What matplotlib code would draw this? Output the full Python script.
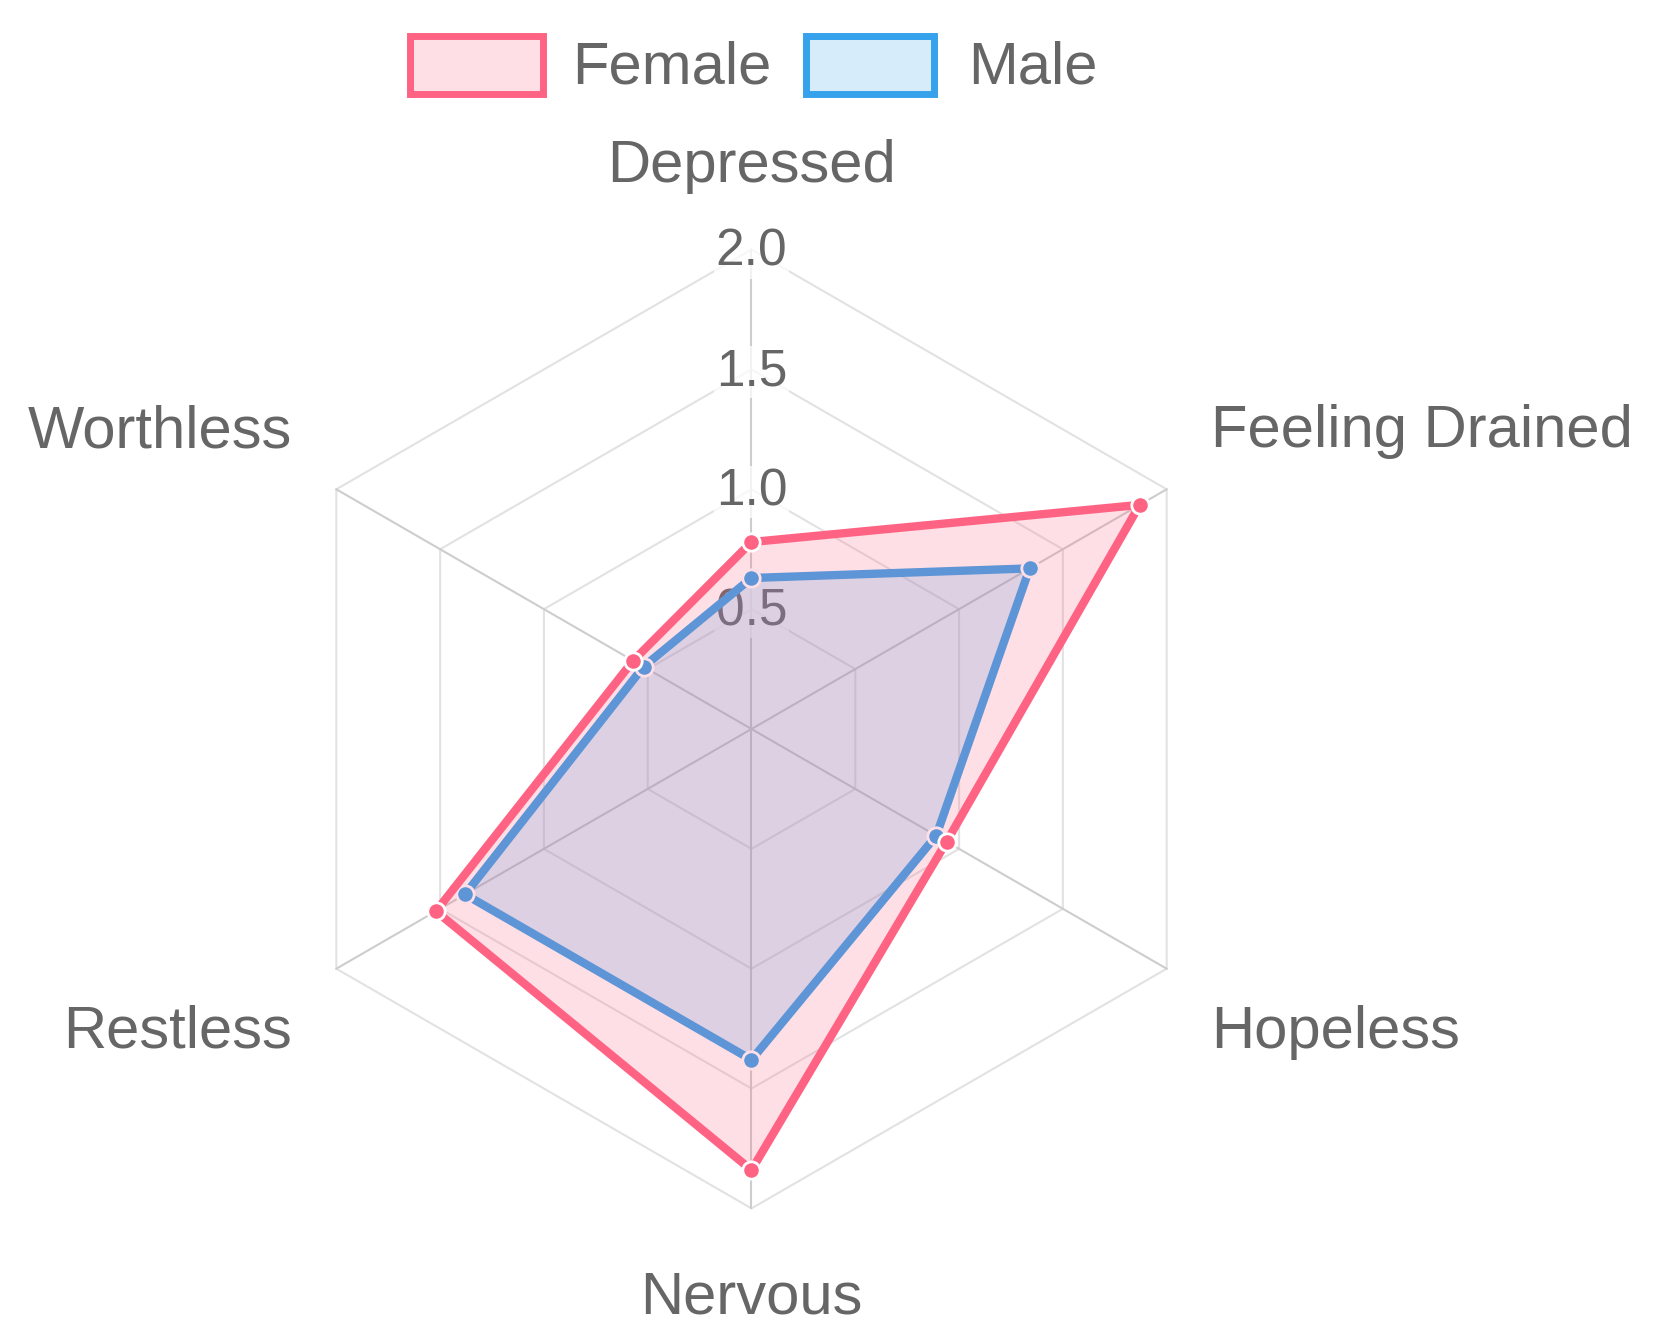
import numpy as np
import matplotlib.pyplot as plt
from matplotlib.patches import Rectangle

# data
labels = ["Depressed", "Feeling Drained", "Hopeless", "Nervous", "Restless", "Worthless"]
female = [0.78, 1.87, 0.94, 1.84, 1.52, 0.57]
male = [0.63, 1.34, 0.89, 1.38, 1.38, 0.52]
ticks = [0.5, 1.0, 1.5, 2.0]
tick_labels = ["0.5", "1.0", "1.5", "2.0"]
r_max = 2.0

pink = (255/255, 99/255, 132/255)
blue = (54/255, 162/255, 235/255)
grey_txt = "#666666"

plt.rcParams['font.family'] = ['Liberation Sans', 'DejaVu Sans']

W, H = 1656, 1344
fig = plt.figure(figsize=(W/100, H/100), dpi=100)

# one value unit in pixels, centre of the radar in pixels
unit = 239.7
cx, cy = 751.5, 729.0
ax = fig.add_axes([0, 0, 1, 1])
ax.set_xlim(-cx/unit, (W-cx)/unit)
ax.set_ylim(-(H-cy)/unit, cy/unit)
ax.axis("off")

n = len(labels)
ang = np.deg2rad(90 - np.arange(n) * 360.0 / n)  # clockwise from top


def to_xy(vals):
    vals = np.asarray(vals, dtype=float)
    return vals * np.cos(ang), vals * np.sin(ang)


# hexagon grid
for t in ticks:
    gx, gy = to_xy([t] * n)
    ax.plot(np.append(gx, gx[0]), np.append(gy, gy[0]), color="#e2e2e2", lw=1.5, zorder=1)

# angle lines
for a in ang:
    ax.plot([0, r_max*np.cos(a)], [0, r_max*np.sin(a)], color="#cdcdcd", lw=1.5, zorder=1)

# tick labels with light backdrop
for t, tl in zip(ticks, tick_labels):
    ax.text(0, t - 0.012, tl, ha="center", va="center", fontsize=37, color=grey_txt, zorder=2,
            bbox=dict(facecolor="white", alpha=0.75, edgecolor="none", pad=1))

# point labels
lab_r = 2.214
for i, (lab, a) in enumerate(zip(labels, ang)):
    x, y = lab_r*np.cos(a), lab_r*np.sin(a)
    c = np.cos(a)
    ha = "center" if abs(c) < 1e-6 else ("left" if c > 0 else "right")
    if y > 1e-6:
        va, y = "bottom", y + 0.018
    else:
        va, y = "top", y - 0.044
    ax.text(x, y, lab, ha=ha, va=va, fontsize=43, color=grey_txt, zorder=2)

# datasets: male drawn first, female on top
for vals, col, z in [(male, blue, 3), (female, pink, 6)]:
    px, py = to_xy(vals)
    ax.fill(px, py, color=col, alpha=0.2, lw=0, zorder=z)
    ax.plot(np.append(px, px[0]), np.append(py, py[0]), color=col, lw=6,
            solid_joinstyle="miter", zorder=z+1)
    ax.plot(px, py, "o", ms=12.5, mfc=col, mec="white", mew=2, zorder=z+2)


# legend
def fx(x):
    return x / W


def fy(y):
    return 1 - y / H


for x0, x1, col, name, tx in [(410, 542.5, pink, "Female", 572), (806, 934.3, blue, "Male", 968.5)]:
    y0, y1 = 36, 93.7
    fig.patches.append(Rectangle((fx(x0), fy(y1)), fx(x1) - fx(x0), fy(y0) - fy(y1),
                                 transform=fig.transFigure, facecolor=(*col, 0.2),
                                 edgecolor=col, lw=5))
    fig.text(fx(tx), fy(83), name, ha="left", va="baseline", fontsize=43, color=grey_txt)

fig.savefig("out.png", dpi=100, facecolor="white")
